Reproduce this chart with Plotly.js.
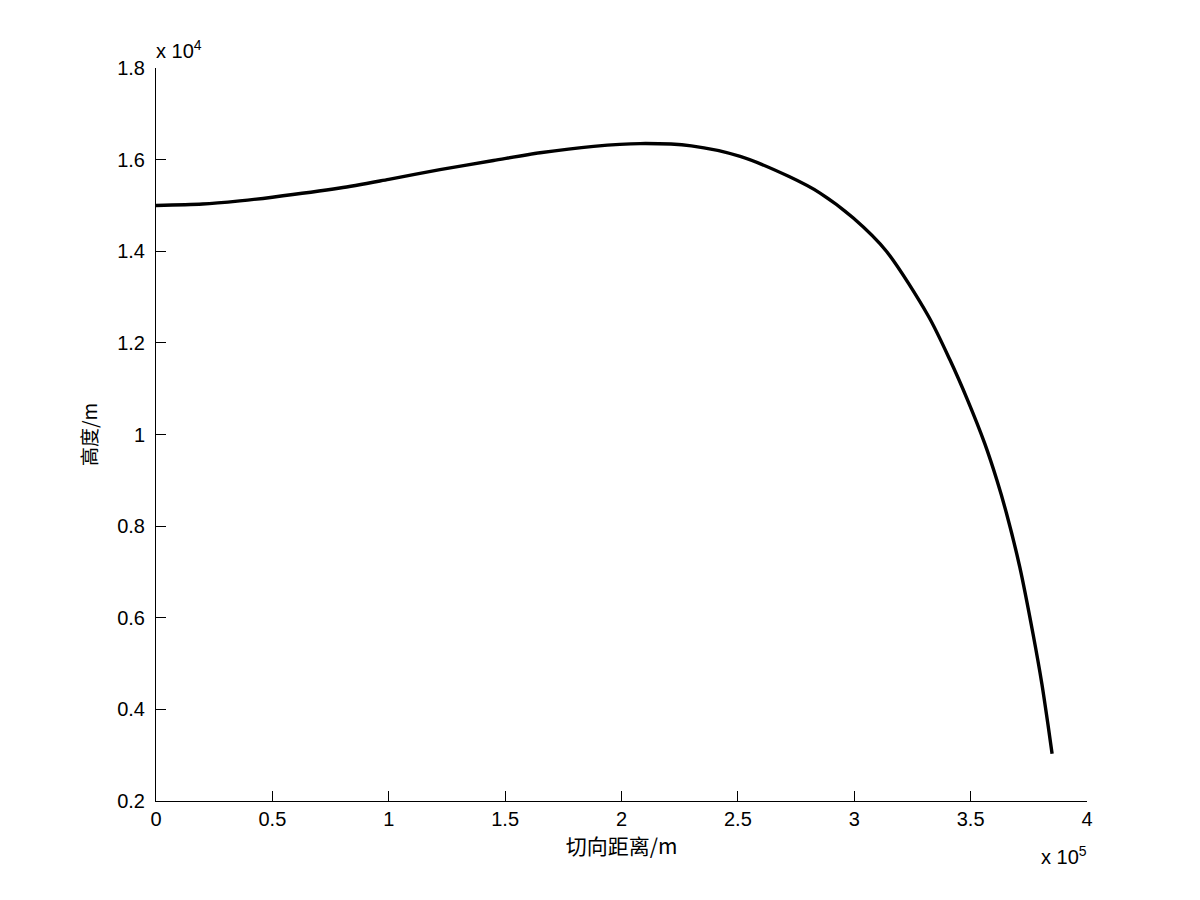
<!DOCTYPE html>
<html>
<head>
<meta charset="utf-8">
<script src="https://cdn.plot.ly/plotly-3.0.1.min.js"></script>
<style>html,body{margin:0;padding:0;background:#fff;}#chart{width:1200px;height:900px;}</style>
</head>
<body>
<div id="chart"></div>
<script>
// tangential distance (m)
const distance = [0, 20000, 36000, 50000, 79000, 100000, 122000, 145000, 165000, 188000, 208000, 230000, 251000, 272000, 285300, 299600, 313900, 332000, 341100, 348700, 356000, 361300, 365400, 371100, 376800, 380600, 383400, 385000];
// altitude (m)
const altitude = [15000, 15030, 15100, 15180, 15380, 15570, 15780, 15980, 16150, 16290, 16350, 16300, 16070, 15630, 15270, 14725, 13995, 12570, 11630, 10750, 9810, 9000, 8280, 7110, 5650, 4560, 3610, 3030];

const xTickVals = [0, 50000, 100000, 150000, 200000, 250000, 300000, 350000, 400000];
const xTickText = ['0', '0.5', '1', '1.5', '2', '2.5', '3', '3.5', '4'];
const yTickVals = [2000, 4000, 6000, 8000, 10000, 12000, 14000, 16000, 18000];
const yTickText = ['0.2', '0.4', '0.6', '0.8', '1', '1.2', '1.4', '1.6', '1.8'];

const font = {family: 'Liberation Sans, Arial, sans-serif', size: 20, color: '#000'};
const cjk = 'Noto Sans CJK SC, sans-serif';

const trace = {
  x: distance, y: altitude, type: 'scatter', mode: 'lines',
  line: {color: '#000', width: 3.4, shape: 'spline', smoothing: 0.8},
  hoverinfo: 'none'
};

const layout = {
  width: 1200, height: 900,
  paper_bgcolor: '#fff', plot_bgcolor: '#fff',
  margin: {l: 156, r: 113, t: 68, b: 99, pad: 0},
  showlegend: false,
  font: font,
  xaxis: {
    range: [0, 400000], tickvals: xTickVals, ticktext: xTickText,
    showline: true, linecolor: '#000', linewidth: 1, mirror: false,
    ticks: 'inside', ticklen: 10, tickcolor: '#000', tickwidth: 1,
    showgrid: false, zeroline: false, tickfont: font, ticklabelstandoff: 0,
    title: {text: '切向距离/m', font: {family: cjk, size: 21, color: '#000'}, standoff: 4}
  },
  yaxis: {
    range: [2000, 18000], tickvals: yTickVals, ticktext: yTickText,
    showline: true, linecolor: '#000', linewidth: 1, mirror: false,
    ticks: 'inside', ticklen: 10, tickcolor: '#000', tickwidth: 1,
    showgrid: false, zeroline: false, tickfont: font, ticklabelstandoff: 6,
    title: {text: '高度/m', font: {family: cjk, size: 19, color: '#000'}, standoff: 14}
  },
  annotations: [
    {xref: 'paper', yref: 'paper', x: 0, y: 1, xanchor: 'left', yanchor: 'bottom', yshift: 4, xshift: -2,
     text: 'x 10<sup>4</sup>', showarrow: false, font: font},
    {xref: 'paper', yref: 'paper', x: 1, y: 0, xanchor: 'right', yanchor: 'top', yshift: -40, xshift: 2,
     text: 'x 10<sup>5</sup>', showarrow: false, font: font}
  ]
};

Plotly.newPlot('chart', [trace], layout, {staticPlot: true, displayModeBar: false});
</script>
</body>
</html>
